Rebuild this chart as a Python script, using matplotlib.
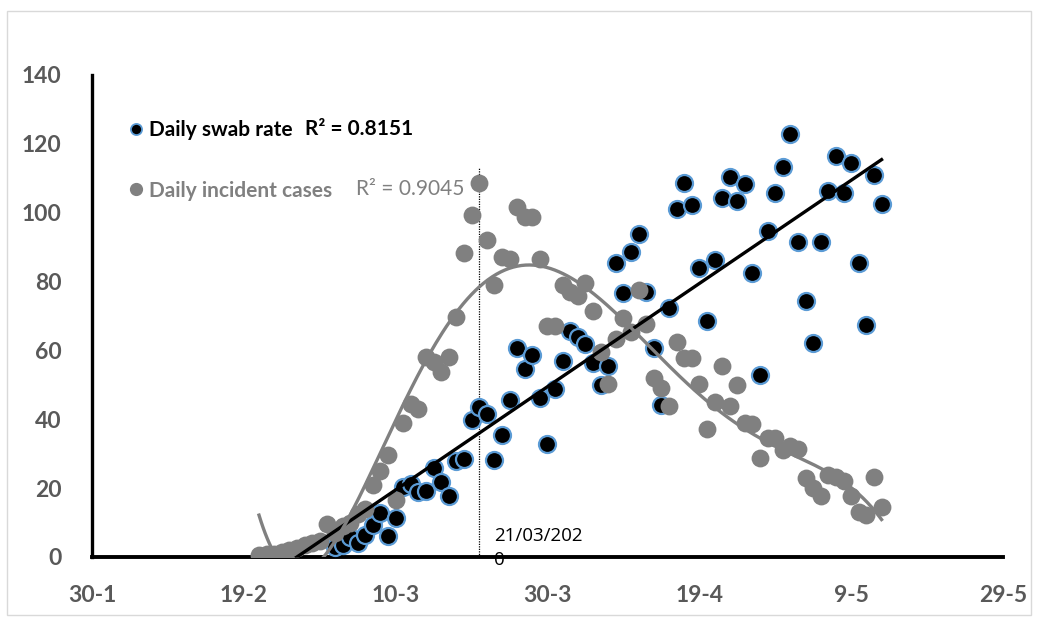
import numpy as np
import pandas as pd
import matplotlib
matplotlib.use("Agg")
import matplotlib.pyplot as plt
import matplotlib.dates as mdates
from matplotlib.lines import Line2D
from matplotlib.patches import Rectangle

# daily swab rate, from 2 March 2020
swab_start = "2020-03-02"
swab_rate = [
    3.0, 3.5, 5.8, 4.1, 6.4, 9.3, 12.8, 6.1, 11.3, 20.3,
    21.2, 18.9, 19.2, 25.9, 21.8, 17.7, 27.9, 28.5, 39.8, 43.6,
    41.5, 28.2, 35.4, 45.6, 60.7, 54.6, 58.7, 46.2, 32.8, 48.8,
    56.9, 65.6, 63.9, 61.9, 56.3, 50.0, 55.5, 85.4, 76.7, 88.6,
    93.8, 77.0, 60.7, 44.1, 72.3, 101.1, 108.6, 102.2, 83.9, 68.5,
    86.3, 104.3, 110.4, 103.4, 108.3, 82.5, 52.9, 94.7, 105.7, 113.3,
    122.9, 91.5, 74.4, 62.2, 91.5, 106.3, 116.5, 105.7, 114.4, 85.4,
    67.4, 110.9, 102.5,
]

# daily incident cases, from 21 February 2020
cases_start = "2020-02-21"
incident_cases = [
    0.5, 1.0, 1.0, 1.5, 2.0, 2.5, 3.5, 4.0, 4.5, 9.5,
    7.0, 9.0, 10.0, 12.5, 14.0, 21.0, 25.0, 29.6, 16.5, 39.0,
    44.5, 43.0, 58.1, 56.6, 53.7, 58.1, 69.7, 88.3, 99.3, 108.6,
    92.1, 79.0, 87.1, 86.5, 101.7, 98.7, 98.7, 86.5, 67.1, 67.1,
    79.0, 77.0, 75.8, 79.6, 71.4, 59.5, 50.2, 63.3, 69.4, 65.3,
    77.5, 67.7, 52.0, 49.1, 43.9, 62.4, 57.8, 57.8, 50.2, 37.2,
    45.0, 55.5, 43.9, 50.0, 38.9, 38.6, 28.8, 34.6, 34.6, 31.1,
    32.2, 31.4, 22.9, 20.0, 17.7, 23.8, 23.2, 22.1, 17.7, 13.1,
    12.2, 23.2, 14.5,
]

swab_r2 = "R² = 0.8151"
cases_r2 = "R² = 0.9045"
marker_date = "2020-03-21"
marker_label = "21/03/202\n0"
tick_dates = pd.date_range("2020-01-30", periods=7, freq="20D")

swab_dates = pd.date_range(swab_start, periods=len(swab_rate), freq="D")
case_dates = pd.date_range(cases_start, periods=len(incident_cases), freq="D")

GRAY = "#808080"
LABEL = "#595959"
BLUE = "#5B9BD5"

plt.rcParams["font.family"] = ["Lato", "DejaVu Sans"]

fig = plt.figure(figsize=(10.38, 6.28), dpi=100)
ax = fig.add_axes([0.0886, 0.1131, 0.8777, 0.7675])

# chart border
fig.patches.append(Rectangle((0.007, 0.02), 0.986, 0.963, transform=fig.transFigure,
                             fill=False, edgecolor="#d9d9d9", linewidth=1))

ax.scatter(swab_dates, swab_rate, s=150, color="black", edgecolors=BLUE,
           linewidths=1.6, zorder=3, label="Daily swab rate")
ax.scatter(case_dates, incident_cases, s=165, color=GRAY, linewidths=0,
           zorder=4, label="Daily incident cases")

# trendlines (linear for swab rate, 6th order polynomial for cases)
t0 = mdates.date2num(case_dates[0])
xs = mdates.date2num(swab_dates) - t0
coef = np.polyfit(xs, swab_rate, 1)
xl = np.linspace(0, mdates.date2num(swab_dates[-1]) - t0, 200)
ax.plot(mdates.num2date(xl + t0), np.polyval(coef, xl), color="black", lw=2.4, zorder=5)

xc = mdates.date2num(case_dates) - t0
pc = np.polyfit(xc / 100, incident_cases, 6)
xp = np.linspace(0, xc[-1], 300)
ax.plot(mdates.num2date(xp + t0), np.polyval(pc, xp / 100), color=GRAY, lw=2.4, zorder=5)

# 21/03 marker
md = pd.Timestamp(marker_date)
ax.plot([md, md], [0, 113], color="black", lw=0.9, ls=(0, (1, 1)), zorder=2)
ax.text(md + pd.Timedelta(days=2.0), 2.6, marker_label, fontsize=13.5, color="black",
        va="center", ha="left", linespacing=1.45, family=["Open Sans", "DejaVu Sans"])

ax.set_xlim(tick_dates[0], tick_dates[-1])
ax.set_ylim(0, 140)
ax.set_xticks(tick_dates)
ax.set_xticklabels([f"{d.day}-{d.month}" for d in tick_dates])
ax.set_yticks(range(0, 141, 20))

for s in ["top", "right"]:
    ax.spines[s].set_visible(False)
ax.spines["left"].set_linewidth(2.4)
ax.spines["bottom"].set_linewidth(2.8)
ax.tick_params(length=0, labelsize=16.5, labelcolor=LABEL)
ax.tick_params(axis="y", pad=22)
ax.tick_params(axis="x", pad=20)
for lab in ax.get_xticklabels() + ax.get_yticklabels():
    lab.set_fontweight("bold")

handles = [
    Line2D([], [], ls="none", marker="o", ms=8, mfc="black", mec=BLUE, mew=1.3),
    Line2D([], [], ls="none", marker="o", ms=8.5, mfc=GRAY, mec=GRAY),
]
leg = ax.legend(handles, ["Daily swab rate", "Daily incident cases"],
                loc="center left", bbox_to_anchor=(0.021, 0.823), frameon=False,
                handlelength=0.6, handletextpad=0.3, labelspacing=1.95,
                prop={"size": 15, "weight": "bold"})
leg.get_texts()[0].set_color("black")
leg.get_texts()[1].set_color(GRAY)

fig.text(305 / 1038, 1 - 129 / 628, swab_r2, fontsize=15, fontweight="bold",
         color="black", va="center")
fig.text(356 / 1038, 1 - 189 / 628, cases_r2, fontsize=15, color=GRAY, va="center")

fig.savefig("out.png", dpi=100)
